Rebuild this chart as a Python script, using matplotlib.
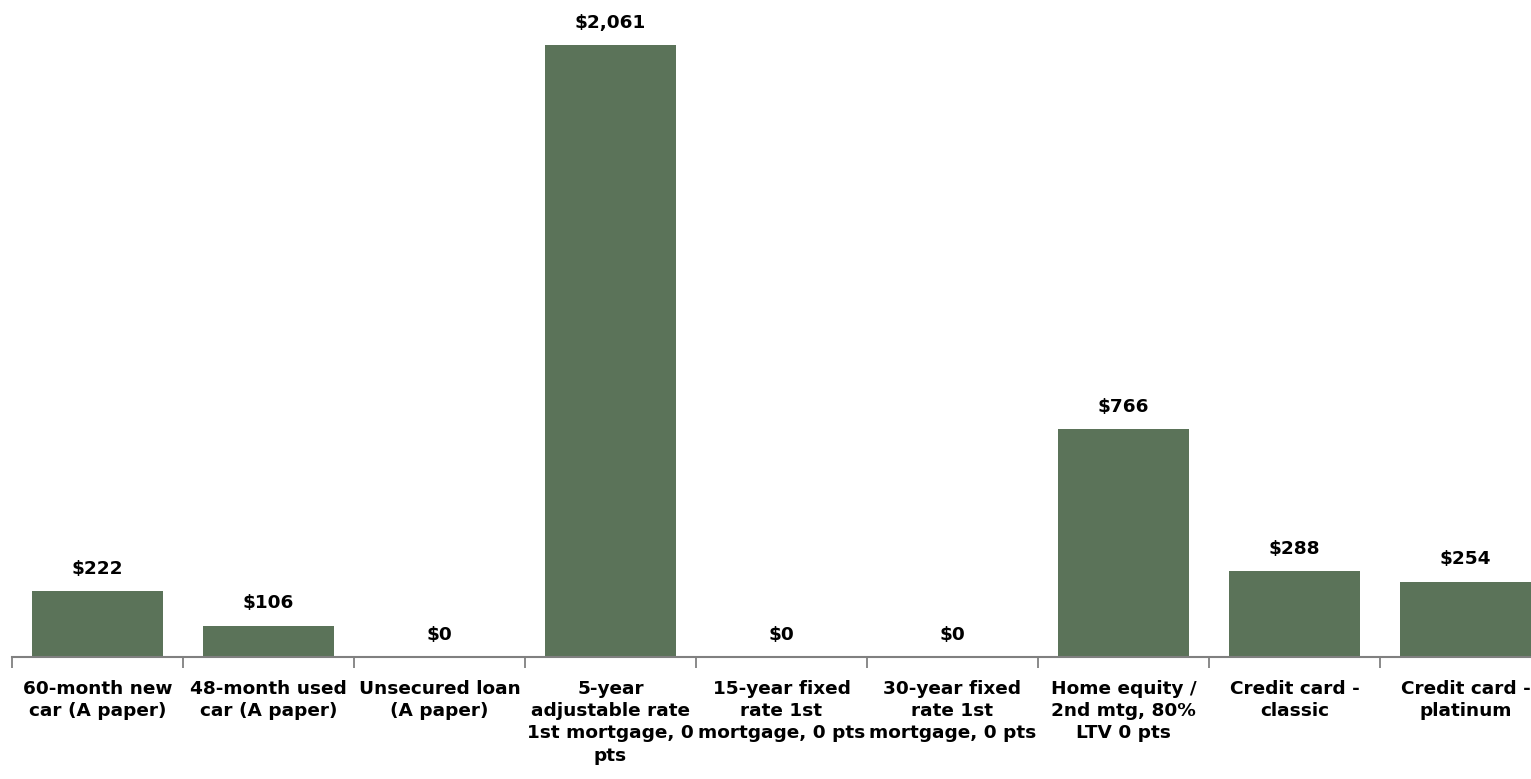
import numpy as np
import matplotlib.pyplot as plt

categories = [
    "60-month new\ncar (A paper)",
    "48-month used\ncar (A paper)",
    "Unsecured loan\n(A paper)",
    "5-year\nadjustable rate\n1st mortgage, 0\npts",
    "15-year fixed\nrate 1st\nmortgage, 0 pts",
    "30-year fixed\nrate 1st\nmortgage, 0 pts",
    "Home equity /\n2nd mtg, 80%\nLTV 0 pts",
    "Credit card -\nclassic",
    "Credit card -\nplatinum",
]
values = [222, 106, 0, 2061, 0, 0, 766, 288, 254]

bar_color = "#5b7359"
font = ["DejaVu Sans"]

fig = plt.figure(figsize=(15.31, 7.79), dpi=100)
ax = fig.add_axes([12 / 1531, 122 / 779, 1539 / 1531, 657 / 779])

x = np.arange(len(values))
bars = ax.bar(x, values, width=0.766, color=bar_color)

ax.set_xlim(-0.5, len(values) - 0.5)
ax.set_ylim(0, 2212)

for b, v in zip(bars, values):
    ax.annotate(f"${v:,}", (b.get_x() + b.get_width() / 2, v),
                xytext=(0, 9.5), textcoords="offset points",
                ha="center", va="bottom", fontsize=13.3,
                fontweight="bold", family=font)

# category labels sit under the bars, ticks mark the boundaries
ax.set_xticks(x)
ax.set_xticklabels(categories, fontsize=13.3, fontweight="bold",
                   family=font, linespacing=1.3)
ax.tick_params(axis="x", which="major", length=0, pad=16.5)
ax.set_xticks(np.arange(len(values) + 1) - 0.5, minor=True)
ax.tick_params(axis="x", which="minor", length=8, width=1.3, color="#808080")

ax.set_yticks([])
for side in ["left", "right", "top"]:
    ax.spines[side].set_visible(False)
ax.spines["bottom"].set_color("#808080")
ax.spines["bottom"].set_linewidth(1.5)

fig.savefig("out.png", dpi=100)
